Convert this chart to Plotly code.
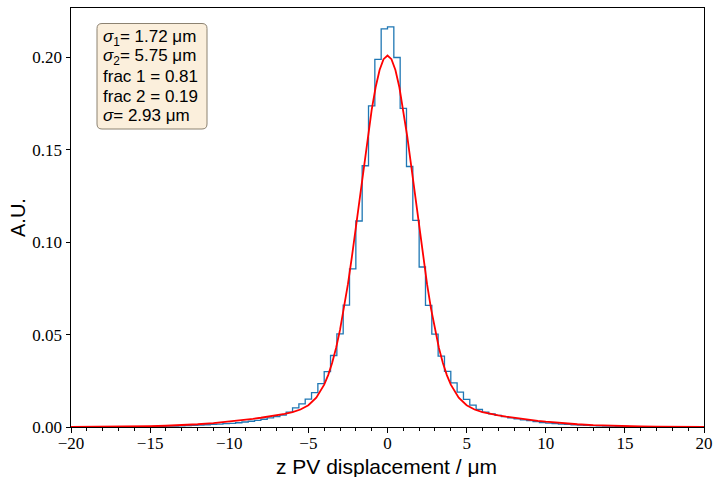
import plotly.graph_objects as go

# ---- data ----
bin_edges = [round(-20 + 0.4 * i, 1) for i in range(101)]
hist_vals = [
    0.00002, 0.00002, 0.00003, 0.00003, 0.00004, 0.00005, 0.00006, 0.00008, 0.0001, 0.00012,
    0.00015, 0.00019, 0.00024, 0.0003, 0.00037, 0.00045, 0.00055, 0.00066, 0.00078, 0.00092,
    0.00107, 0.00123, 0.0014, 0.0016, 0.0018, 0.0020, 0.0023, 0.0027, 0.0031, 0.0036,
    0.0042, 0.0049, 0.0056, 0.0064, 0.0080, 0.0104, 0.0125, 0.0151, 0.0186, 0.0235,
    0.0300, 0.0387, 0.0504, 0.0660, 0.0856, 0.1115, 0.1414, 0.1738, 0.1990, 0.2155,
    0.2166, 0.2000, 0.1725, 0.1410, 0.1118, 0.0866, 0.0658, 0.0503, 0.0384, 0.0301,
    0.0239, 0.0189, 0.0149, 0.0118, 0.0095, 0.0080, 0.0071, 0.0063, 0.0056, 0.0050,
    0.0044, 0.0039, 0.0034, 0.0029, 0.0024, 0.0021, 0.0018, 0.0016, 0.0014, 0.0012,
    0.00105, 0.0009, 0.00078, 0.00066, 0.00055, 0.00045, 0.00037, 0.0003, 0.00024, 0.00019,
    0.00015, 0.00012, 0.0001, 0.00008, 0.00006, 0.00005, 0.00004, 0.00003, 0.00002, 0.00002,
]

fit_x = [-20, -19, -18, -17, -16, -15, -14, -13, -12, -11, -10, -9.5, -9, -8.5, -8, -7.5, -7,
         -6.5, -6, -5.5, -5, -4.5, -4, -3.75, -3.5, -3.25, -3, -2.75, -2.5, -2.25, -2, -1.75,
         -1.5, -1.25, -1, -0.75, -0.5, -0.25, 0, 0.25, 0.5, 0.75, 1, 1.25, 1.5, 1.75, 2, 2.25,
         2.5, 2.75, 3, 3.25, 3.5, 3.75, 4, 4.5, 5, 5.5, 6, 6.5, 7, 7.5, 8, 8.5, 9, 9.5, 10,
         11, 12, 13, 14, 15, 16, 17, 18, 19, 20]
fit_y = [0.000031, 0.000056, 0.000098, 0.000167, 0.000275, 0.000439, 0.00068, 0.001024,
         0.001494, 0.002115, 0.002906, 0.003367, 0.003873, 0.004421, 0.00501, 0.00565, 0.00633,
         0.00711, 0.00808, 0.00947, 0.01178, 0.01584, 0.02293, 0.02811, 0.03466, 0.04276,
         0.05255, 0.0641, 0.07733, 0.09206, 0.10797, 0.12456, 0.14119, 0.15716, 0.17165,
         0.18391, 0.19324, 0.19908, 0.20106, 0.19908, 0.19324, 0.18391, 0.17165, 0.15716,
         0.14119, 0.12456, 0.10797, 0.09206, 0.07733, 0.0641, 0.05255, 0.04276, 0.03466,
         0.02811, 0.02293, 0.01584, 0.01178, 0.00947, 0.00808, 0.00711, 0.00633, 0.00565,
         0.00501, 0.004421, 0.003873, 0.003367, 0.002906, 0.002115, 0.001494, 0.001024,
         0.00068, 0.000439, 0.000275, 0.000167, 0.000098, 0.000056, 0.000031]

x_ticks = [-20, -15, -10, -5, 0, 5, 10, 15, 20]
y_ticks = [0.00, 0.05, 0.10, 0.15, 0.20]

box_lines = [
    "<i>σ</i><sub>1</sub>= 1.72 μm",
    "<i>σ</i><sub>2</sub>= 5.75 μm",
    "frac 1 = 0.81",
    "frac 2 = 0.19",
    "<i>σ</i>= 2.93 μm",
]
x_title = "z PV displacement / μm"
y_title = "A.U."

# ---- figure ----
fig = go.Figure()
fig.add_trace(go.Scatter(
    x=bin_edges, y=hist_vals + [hist_vals[-1]], mode="lines", line_shape="hv",
    line=dict(color="#1f77b4", width=1.3), showlegend=False, hoverinfo="skip"))
fig.add_trace(go.Scatter(
    x=fit_x, y=fit_y, mode="lines", line=dict(color="red", width=1.8),
    showlegend=False, hoverinfo="skip"))

W, H = 714, 477
L, R, T, B = 71, 10, 8, 50
pw, ph = W - L - R, H - T - B

def px(xp):
    return (xp - L) / pw

def py(yp):
    return (H - B - yp) / ph

# rounded text box
x0, x1, y0, y1, r = 97, 207, 23.5, 129, 5
path = (f"M {px(x0 + r)},{py(y0)} L {px(x1 - r)},{py(y0)} Q {px(x1)},{py(y0)} {px(x1)},{py(y0 + r)} "
        f"L {px(x1)},{py(y1 - r)} Q {px(x1)},{py(y1)} {px(x1 - r)},{py(y1)} "
        f"L {px(x0 + r)},{py(y1)} Q {px(x0)},{py(y1)} {px(x0)},{py(y1 - r)} "
        f"L {px(x0)},{py(y0 + r)} Q {px(x0)},{py(y0)} {px(x0 + r)},{py(y0)} Z")
fig.add_shape(type="path", path=path, xref="paper", yref="paper",
              fillcolor="#fbefdc", line=dict(color="#8c8271", width=1), layer="above")

line_centers = [38, 57.5, 76.5, 96, 115.5]
for txt, yc in zip(box_lines, line_centers):
    fig.add_annotation(
        x=px(101.5), y=py(yc), xref="paper", yref="paper", xanchor="left", yanchor="middle",
        text=txt, showarrow=False, align="left", borderpad=0,
        font=dict(family="Liberation Sans", size=17, color="black"))

fig.add_annotation(x=px(386), y=py(466), xref="paper", yref="paper",
                   xanchor="center", yanchor="middle", text=x_title, showarrow=False,
                   borderpad=0,
                   font=dict(family="Liberation Sans", size=21, color="black"))
fig.add_annotation(x=px(18), y=py(218), xref="paper", yref="paper", textangle=-90,
                   xanchor="center", yanchor="middle", text=y_title, showarrow=False,
                   font=dict(family="Liberation Sans", size=20, color="black"))

axis_common = dict(showline=True, linecolor="black", linewidth=1, mirror=True,
                   showgrid=False, zeroline=False, ticks="outside", ticklen=4.5,
                   tickcolor="black", tickwidth=1, automargin=False,
                   tickfont=dict(family="Liberation Serif", size=17, color="black"))

fig.update_layout(
    width=W, height=H, margin=dict(l=L, r=R, t=T, b=B, autoexpand=False),
    paper_bgcolor="white", plot_bgcolor="white",
    xaxis=dict(range=[-20, 20], tickvals=x_ticks, ticklabelstandoff=-4,
               minor=dict(dtick=1, ticks="outside", ticklen=2.5, tickcolor="black"),
               **axis_common),
    yaxis=dict(range=[0, 0.2268], tickvals=y_ticks, tickformat=".2f", **axis_common),
)

fig.write_html("out.html", config={"displayModeBar": False},
               post_script="document.body.style.margin='0';document.body.style.padding='0';"
                           "document.documentElement.style.overflow='hidden';")
